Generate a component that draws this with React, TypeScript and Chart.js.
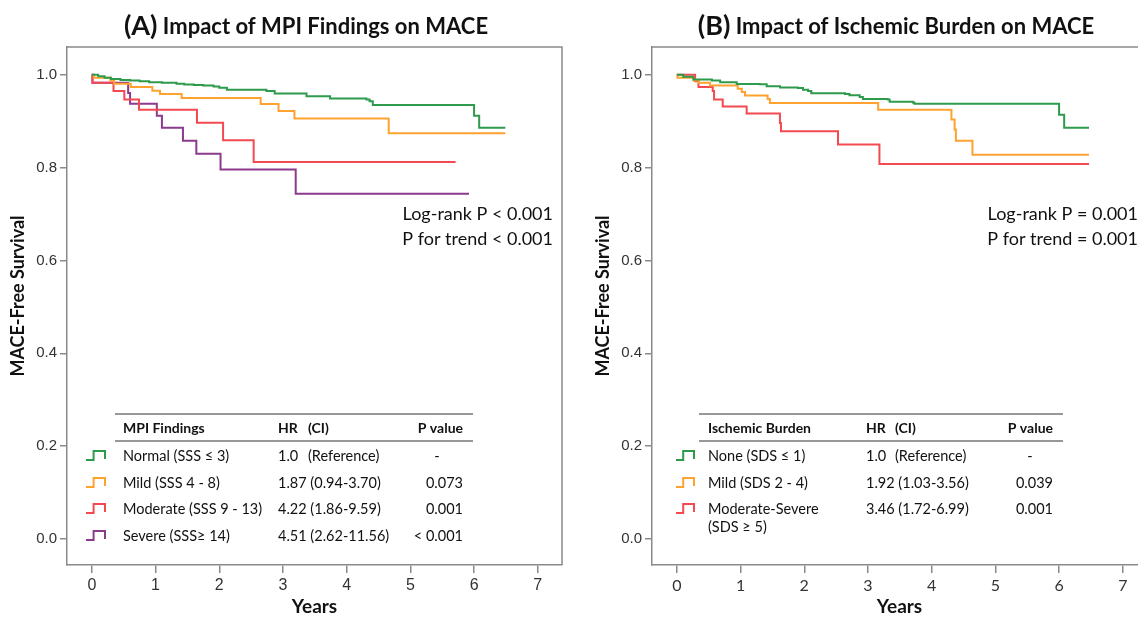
import React, { useEffect, useRef } from "react";
import { Chart, registerables } from "chart.js";

Chart.register(...registerables);

// ---------- tick labels ----------
const xTickValues = [0, 1, 2, 3, 4, 5, 6, 7];
const yTickValues = [0, 0.2, 0.4, 0.6, 0.8, 1.0];

// ---------- Panel A: MPI findings ----------
const aNormalYears = [0, 0.1, 0.2, 0.3, 0.45, 0.6, 0.75, 0.9, 1.1, 1.33, 1.45, 1.6, 1.75, 1.91, 2.0, 2.12, 2.74, 2.87, 3.37, 3.74, 4.31, 4.36, 4.41, 6.0, 6.08, 6.49];
const aNormalSurv = [1.0, 0.997, 0.994, 0.991, 0.989, 0.988, 0.986, 0.984, 0.983, 0.981, 0.979, 0.978, 0.977, 0.975, 0.972, 0.968, 0.965, 0.96, 0.954, 0.949, 0.947, 0.943, 0.935, 0.912, 0.886, 0.886];

const aMildYears = [0, 0.03, 0.29, 0.35, 0.61, 0.95, 1.07, 1.41, 2.65, 2.93, 3.18, 4.66, 6.49];
const aMildSurv = [1.0, 0.9935, 0.988, 0.981, 0.974, 0.966, 0.959, 0.95, 0.937, 0.922, 0.906, 0.874, 0.874];

const aModerateYears = [0, 0.01, 0.34, 0.51, 0.74, 1.65, 2.06, 2.54, 5.71];
const aModerateSurv = [1.0, 0.983, 0.965, 0.947, 0.925, 0.897, 0.859, 0.812, 0.812];

const aSevereYears = [0, 0.01, 0.57, 0.6, 1.02, 1.1, 1.43, 1.64, 2.02, 3.2, 5.92];
const aSevereSurv = [1.0, 0.983, 0.961, 0.9375, 0.912, 0.886, 0.858, 0.83, 0.796, 0.744, 0.744];

// ---------- Panel B: Ischemic burden ----------
const bNoneYears = [0, 0.1, 0.26, 0.55, 0.68, 0.94, 1.3, 1.41, 1.62, 1.9, 1.98, 2.06, 2.11, 2.64, 2.71, 2.87, 2.92, 3.31, 3.34, 3.71, 3.73, 6.0, 6.08, 6.47];
const bNoneSurv = [1.0, 0.996, 0.99, 0.988, 0.984, 0.9805, 0.9795, 0.9755, 0.973, 0.9715, 0.968, 0.965, 0.9604, 0.959, 0.956, 0.9525, 0.948, 0.947, 0.942, 0.94, 0.938, 0.914, 0.886, 0.886];

const bMildYears = [0, 0.01, 0.26, 0.34, 0.52, 0.955, 1.02, 1.07, 1.425, 1.46, 3.16, 4.31, 4.36, 4.38, 4.64, 6.47];
const bMildSurv = [1.0, 0.9935, 0.988, 0.983, 0.977, 0.97, 0.963, 0.9554, 0.948, 0.9396, 0.925, 0.904, 0.882, 0.858, 0.828, 0.828];

const bModSevYears = [0, 0.287, 0.34, 0.563, 0.584, 0.72, 1.096, 1.618, 1.634, 2.53, 3.18, 6.47];
const bModSevSurv = [1.0, 0.986, 0.974, 0.965, 0.947, 0.932, 0.9166, 0.8965, 0.8785, 0.85, 0.808, 0.808];

// ---------- table text ----------
const aHeader = ["MPI Findings", "HR", "(CI)", "P value"];
const aGroups = ["Normal (SSS ≤ 3)", "Mild (SSS 4 - 8)", "Moderate (SSS 9 - 13)", "Severe (SSS≥ 14)"];
const aHR = ["1.0", "1.87 (0.94-3.70)", "4.22 (1.86-9.59)", "4.51 (2.62-11.56)"];
const aP = ["-", "0.073", "0.001", "< 0.001"];
const aStats = ["Log-rank P < 0.001", "P for trend < 0.001"];

const bHeader = ["Ischemic Burden", "HR", "(CI)", "P value"];
const bGroups = ["None (SDS ≤ 1)", "Mild (SDS 2 - 4)", "Moderate-Severe|(SDS ≥ 5)"];
const bHR = ["1.0", "1.92 (1.03-3.56)", "3.46 (1.72-6.99)"];
const bP = ["-", "0.039", "0.001"];
const bStats = ["Log-rank P = 0.001", "P for trend = 0.001"];

const GREEN = "#2e9a4c";
const ORANGE = "#ffa230";
const RED = "#f24a50";
const PURPLE = "#8b3a8e";
const AXIS = "#8a8a8a";
const SANS = "Lato, 'Open Sans', sans-serif";

type PanelCfg = {
  letter: string;
  title: string;
  titleCx: number;
  series: { label: string; xs: number[]; ys: number[]; color: string }[];
  header: string[];
  groups: string[];
  hr: string[];
  p: string[];
  stats: string[];
  tab: { lineL: number; lineR: number; textX: number; hrX: number; ciX: number; pR: number; dashX: number; iconL: number; iconR: number };
  tickFont: string;
};

function decorPlugin(cfg: PanelCfg) {
  return {
    id: "decor",
    afterDraw(chart: any) {
      const ctx: CanvasRenderingContext2D = chart.ctx;
      const ca = chart.chartArea;
      ctx.save();
      // frame top & right
      ctx.strokeStyle = AXIS;
      ctx.lineWidth = 1.5;
      ctx.beginPath();
      ctx.moveTo(ca.left, ca.top);
      ctx.lineTo(ca.right, ca.top);
      ctx.lineTo(ca.right, ca.bottom);
      ctx.stroke();

      // title
      ctx.fillStyle = "#111";
      ctx.textBaseline = "alphabetic";
      const f1 = `bold 27px ${SANS}`;
      const f2 = `bold 22px ${SANS}`;
      ctx.font = f1;
      const w1 = ctx.measureText(cfg.letter).width;
      ctx.font = f2;
      const w2 = ctx.measureText(" " + cfg.title).width;
      const sx = cfg.titleCx - (w1 + w2) / 2;
      ctx.textAlign = "left";
      ctx.font = f1;
      ctx.fillText(cfg.letter, sx, 35);
      ctx.font = f2;
      ctx.fillText(" " + cfg.title, sx + w1, 34);

      // axis titles
      ctx.font = `bold 18px ${SANS}`;
      ctx.textAlign = "center";
      ctx.textBaseline = "middle";
      ctx.save();
      ctx.translate(18, 296);
      ctx.rotate(-Math.PI / 2);
      ctx.fillText("MACE-Free Survival", 0, 0);
      ctx.restore();
      ctx.font = `bold 19px ${SANS}`;
      ctx.fillText("Years", (ca.left + ca.right) / 2, 607);

      // stats text
      ctx.font = `18px ${SANS}`;
      ctx.textAlign = "right";
      ctx.fillText(cfg.stats[0], 553, 214);
      ctx.fillText(cfg.stats[1], 553, 239);

      // table
      const t = cfg.tab;
      ctx.strokeStyle = "#333";
      ctx.lineWidth = 1.2;
      ctx.beginPath();
      ctx.moveTo(t.lineL, 414);
      ctx.lineTo(t.lineR, 414);
      ctx.moveTo(t.lineL, 441);
      ctx.lineTo(t.lineR, 441);
      ctx.stroke();
      ctx.font = `bold 14px ${SANS}`;
      ctx.textAlign = "left";
      ctx.fillText(cfg.header[0], t.textX, 428);
      ctx.fillText(cfg.header[1], t.hrX, 428);
      ctx.fillText(cfg.header[2], t.ciX, 428);
      ctx.textAlign = "right";
      ctx.fillText(cfg.header[3], t.pR, 428);

      const rowY = [456, 483, 509, 536];
      ctx.font = `14.5px ${SANS}`;
      cfg.groups.forEach((g, i) => {
        const y = rowY[i];
        const parts = g.split("|");
        ctx.textAlign = "left";
        parts.forEach((p, k) => ctx.fillText(p, t.textX, y + k * 18));
        if (cfg.hr[i] === "1.0") {
          ctx.fillText("1.0", t.hrX, y);
          ctx.fillText("(Reference)", t.ciX, y);
        } else {
          ctx.fillText(cfg.hr[i], t.hrX, y);
        }
        if (cfg.p[i] === "-") {
          ctx.textAlign = "center";
          ctx.fillText("-", t.dashX, y);
        } else {
          ctx.textAlign = "right";
          ctx.fillText(cfg.p[i], t.pR, y);
        }
        // icon
        const col = cfg.series[i].color;
        ctx.strokeStyle = col;
        ctx.lineWidth = 2;
        const mid = t.iconL + (t.iconR - t.iconL) * 0.4;
        ctx.beginPath();
        ctx.moveTo(t.iconL, y + 4);
        ctx.lineTo(mid, y + 4);
        ctx.lineTo(mid, y - 5);
        ctx.lineTo(t.iconR, y - 5);
        ctx.lineTo(t.iconR, y + 3);
        ctx.stroke();
      });
      ctx.restore();
    },
  };
}

function Panel({ cfg, left }: { cfg: PanelCfg; left: number }) {
  const ref = useRef<HTMLCanvasElement | null>(null);
  useEffect(() => {
    if (!ref.current) return;
    const chart = new Chart(ref.current, {
      type: "line",
      data: {
        datasets: cfg.series.map((s) => ({
          label: s.label,
          data: s.xs.map((x, i) => ({ x, y: s.ys[i] })),
          borderColor: s.color,
          backgroundColor: s.color,
          borderWidth: 2,
          pointRadius: 0,
          stepped: "before" as const,
          fill: false,
        })),
      },
      options: {
        animation: false,
        responsive: false,
        devicePixelRatio: 1,
        layout: { padding: { left: 0, top: 47, right: 8, bottom: 0 } },
        plugins: { legend: { display: false }, tooltip: { enabled: false }, title: { display: false } },
        scales: {
          x: {
            type: "linear",
            min: -0.39,
            max: 7.38,
            afterFit: (s: any) => {
              s.height = 52;
            },
            afterBuildTicks: (s: any) => {
              s.ticks = xTickValues.map((v) => ({ value: v }));
            },
            ticks: {
              autoSkip: false,
              maxRotation: 0,
              color: "#333",
              font: { family: cfg.tickFont, size: 16 },
              padding: 3,
              callback: (v: any) => String(v),
            },
            grid: { drawOnChartArea: false, drawTicks: true, tickLength: 8, color: AXIS, lineWidth: 1.5 },
            border: { display: true, color: AXIS, width: 1.5 },
          },
          y: {
            type: "linear",
            min: -0.056,
            max: 1.06,
            afterFit: (s: any) => {
              s.width = 67;
            },
            afterBuildTicks: (s: any) => {
              s.ticks = yTickValues.map((v) => ({ value: v }));
            },
            ticks: {
              autoSkip: false,
              color: "#333",
              font: { family: "'Liberation Sans', Arial, sans-serif", size: 15 },
              padding: 3,
              callback: (v: any) => Number(v).toFixed(1),
            },
            grid: { drawOnChartArea: false, drawTicks: true, tickLength: 7, color: AXIS, lineWidth: 1.5 },
            border: { display: true, color: AXIS, width: 1.5 },
          },
        },
      },
      plugins: [decorPlugin(cfg)],
    } as any);
    return () => chart.destroy();
  }, [cfg]);
  return (
    <canvas
      ref={ref}
      width={570}
      height={617}
      style={{ position: "absolute", left, top: 0, width: 570, height: 617 }}
    />
  );
}

const panelA: PanelCfg = {
  letter: "(A)",
  title: "Impact of MPI Findings on MACE",
  titleCx: 306,
  series: [
    { label: "Normal", xs: aNormalYears, ys: aNormalSurv, color: GREEN },
    { label: "Mild", xs: aMildYears, ys: aMildSurv, color: ORANGE },
    { label: "Moderate", xs: aModerateYears, ys: aModerateSurv, color: RED },
    { label: "Severe", xs: aSevereYears, ys: aSevereSurv, color: PURPLE },
  ],
  header: aHeader,
  groups: aGroups,
  hr: aHR,
  p: aP,
  stats: aStats,
  tab: { lineL: 115, lineR: 473, textX: 123, hrX: 278, ciX: 308, pR: 463, dashX: 437, iconL: 86, iconR: 105 },
  tickFont: "'Liberation Sans', Arial, sans-serif",
};

const panelB: PanelCfg = {
  letter: "(B)",
  title: "Impact of Ischemic Burden on MACE",
  titleCx: 311,
  series: [
    { label: "None", xs: bNoneYears, ys: bNoneSurv, color: GREEN },
    { label: "Mild", xs: bMildYears, ys: bMildSurv, color: ORANGE },
    { label: "Moderate-Severe", xs: bModSevYears, ys: bModSevSurv, color: RED },
  ],
  header: bHeader,
  groups: bGroups,
  hr: bHR,
  p: bP,
  stats: bStats,
  tab: { lineL: 114, lineR: 478, textX: 123, hrX: 281, ciX: 310, pR: 468, dashX: 445, iconL: 91, iconR: 109 },
  tickFont: SANS,
};

export default function App() {
  return (
    <div
      style={{
        position: "absolute",
        left: 0,
        top: 0,
        width: 1138,
        height: 617,
        overflow: "hidden",
        background: "#fff",
      }}
    >
      <Panel cfg={panelA} left={0} />
      <Panel cfg={panelB} left={585} />
    </div>
  );
}
